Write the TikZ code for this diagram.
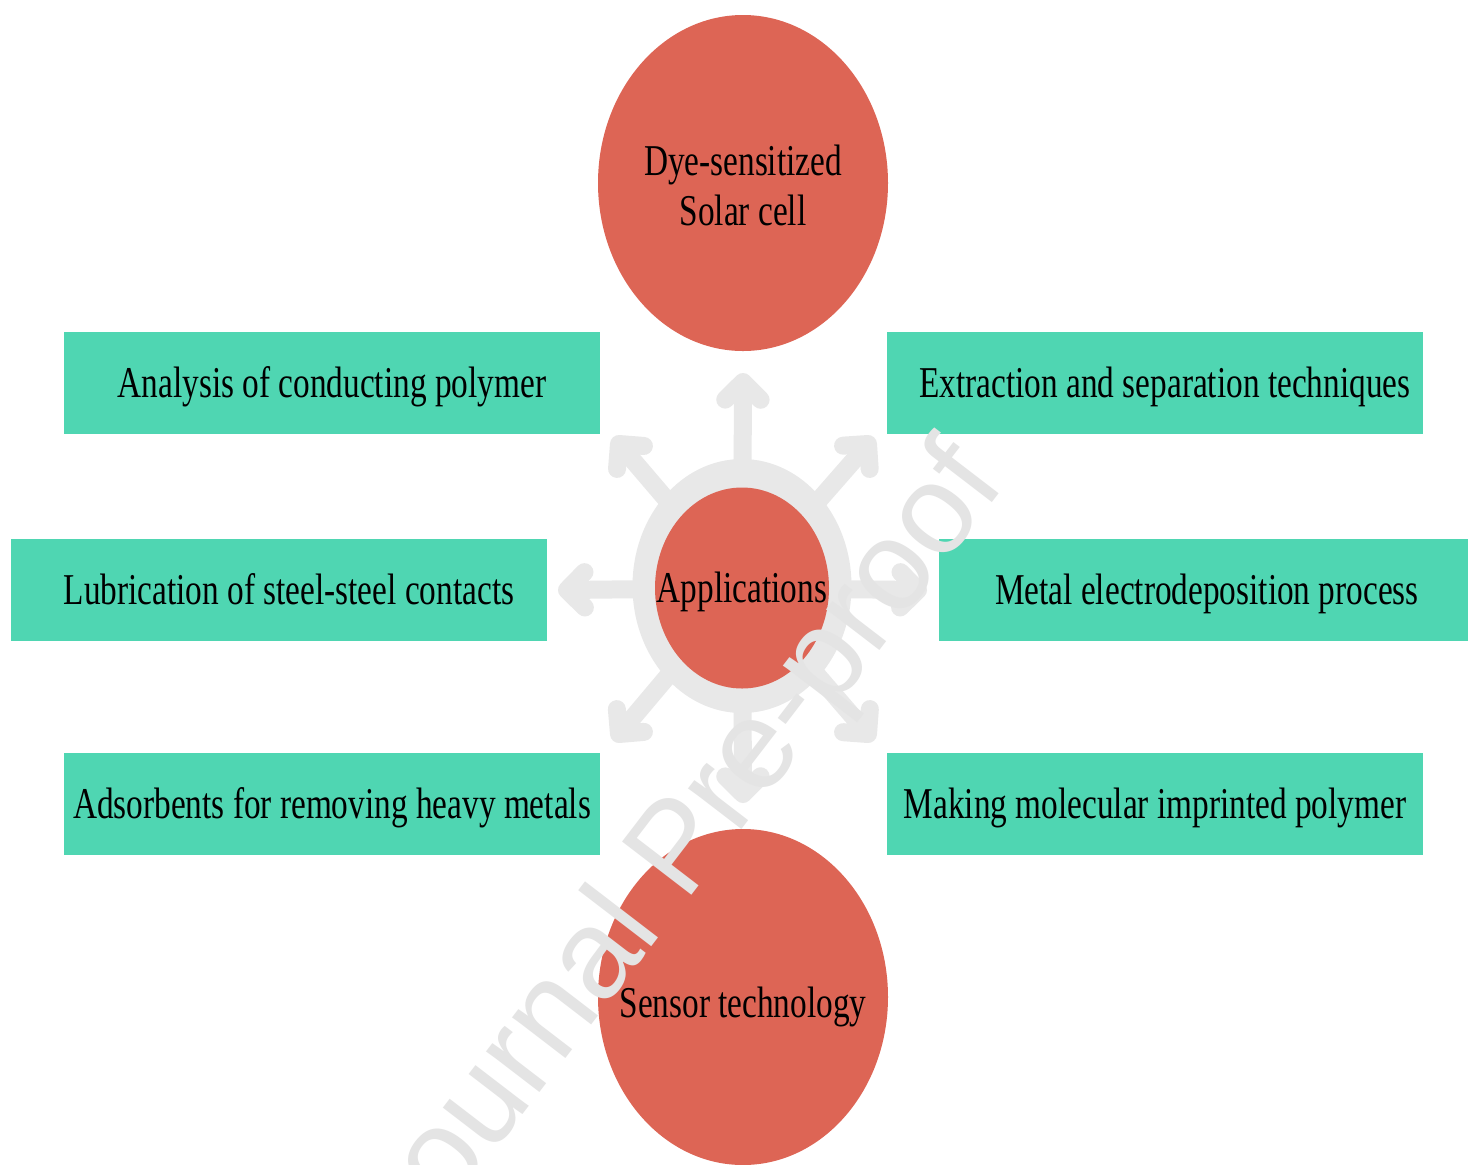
\documentclass[tikz,border=0pt]{standalone}
\usepackage{fontspec}
\setmainfont{Liberation Serif}[FakeStretch=0.757]
\newfontfamily\wmfont{Liberation Sans}
\usetikzlibrary{shapes.geometric,calc}
\definecolor{tealbox}{RGB}{79,214,178}
\definecolor{redbub}{RGB}{221,101,85}
\definecolor{icongray}{RGB}{232,232,232}
\definecolor{wmgray}{RGB}{228,228,228}
\begin{document}
\begin{tikzpicture}[x=0.5pt,y=-0.5pt,
  txt/.style={font=\fontsize{22}{25}\selectfont, text=black},
  boxnode/.style={txt, rectangle, fill=tealbox, minimum width=268pt, minimum height=51pt,
    inner sep=0pt, text height=16pt, text depth=1.5pt},
  bubble/.style={ellipse, fill=redbub, inner sep=0pt, outer sep=0pt},
  lbl/.style={txt, inner sep=0pt, align=center},
  shaft/.style={draw=icongray, line width=9pt},
  arrowhead/.style={draw=icongray, line width=9pt, line cap=round, line join=round}]
\path[use as bounding box, clip] (0,0) rectangle (1468,1164);
\fill[white] (0,0) rectangle (1468,1164);

% boxes
\node[boxnode] (ana) at (332,383) {Analysis of conducting polymer};
\node[boxnode] (ext) at (1155,383) {\hspace*{10pt}Extraction and separation techniques};
\node[boxnode] (lub) at (279,589.5) {\hspace*{10pt}Lubrication of steel-steel contacts};
\node[boxnode] (met) at (1207,589.5) {Metal electrodeposition process};
\node[boxnode] (ads) at (332,804) {Adsorbents for removing heavy metals};
\node[boxnode] (mak) at (1155,804) {Making molecular imprinted polymer};

% outer bubbles
\node[bubble, minimum width=145pt, minimum height=168pt,
  label={[lbl, yshift=-1pt]center:Dye-sensitized\\Solar cell}] (solar) at (743,183) {};
\node[bubble, minimum width=145pt, minimum height=168pt,
  label={[lbl, yshift=-3pt, text height=16pt, text depth=1.5pt]center:Sensor technology}] (sensor) at (743,997) {};

% radial icon
\coordinate (C) at (742,588);
\coordinate (vN) at (743,382);
\coordinate (vS) at (743,794);
\coordinate (vW) at (567,590);
\coordinate (vE) at (918,590);
\coordinate (vNW) at (619,444);
\coordinate (vNE) at (868,444);
\coordinate (vSW) at (619,734);
\coordinate (vSE) at (868,734);
\foreach \v in {vN,vS,vW,vE,vNW,vNE,vSW,vSE}{
  \draw[shaft] (C) -- (\v);
  \draw[arrowhead] ($(\v)!12.5pt!45:(C)$) -- (\v) -- ($(\v)!12.5pt!-45:(C)$);
}
\node[ellipse, fill=icongray, inner sep=0pt, minimum width=109.5pt, minimum height=127pt] (ring) at (742,586) {};
\node[bubble, minimum width=87pt, minimum height=100.5pt,
  label={[lbl, text height=16pt, text depth=1.5pt]center:Applications}] (app) at (742,588) {};

% watermark
\node[font=\wmfont\fontsize{63.5}{63.5}\selectfont, text=wmgray, rotate=52.5, anchor=base west, inner sep=0pt] (wmark) at (410,1262) {Journal Pre-proof};
\end{tikzpicture}
\end{document}
